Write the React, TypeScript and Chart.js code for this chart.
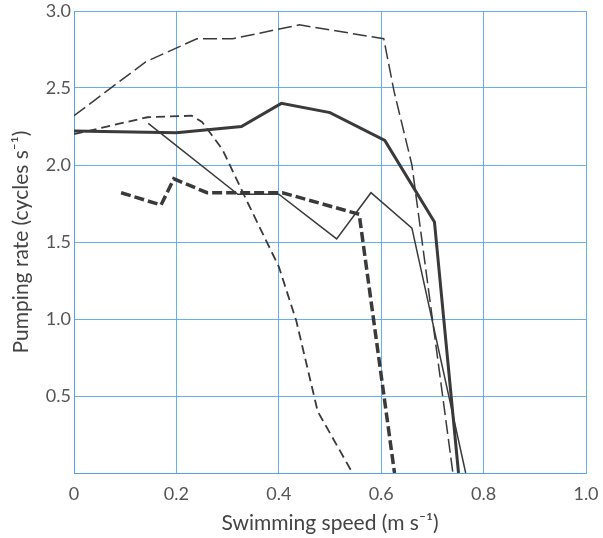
import React, { useEffect, useRef } from "react";
import { Chart, registerables } from "chart.js";

Chart.register(...registerables);

// Swimming speed (m s^-1) and pumping rate (cycles s^-1) for each trace
const aSpeed = [0, 0.14, 0.24, 0.31, 0.44, 0.605, 0.625, 0.66, 0.74];
const aRate = [2.32, 2.67, 2.82, 2.82, 2.91, 2.82, 2.48, 2.0, 0];

const bSpeed = [0, 0.2, 0.327, 0.405, 0.5, 0.607, 0.704, 0.751];
const bRate = [2.22, 2.21, 2.25, 2.4, 2.34, 2.16, 1.63, 0];

const cSpeed = [0.145, 0.32, 0.4, 0.513, 0.58, 0.66, 0.765];
const cRate = [2.27, 1.81, 1.81, 1.52, 1.82, 1.59, 0];

const dSpeed = [0.092, 0.17, 0.195, 0.26, 0.407, 0.557, 0.626];
const dRate = [1.82, 1.74, 1.91, 1.82, 1.82, 1.68, 0];

const eSpeed = [0, 0.143, 0.23, 0.25, 0.29, 0.34, 0.4, 0.434, 0.476, 0.544];
const eRate = [2.2, 2.31, 2.32, 2.28, 2.1, 1.75, 1.34, 0.99, 0.4, 0];

const xTicks = [0, 0.2, 0.4, 0.6, 0.8, 1.0];
const yTicks = [0.5, 1.0, 1.5, 2.0, 2.5, 3.0];

const xTitle = "Swimming speed (m s\u207B\u00B9)";
const yTitle = "Pumping rate (cycles s\u207B\u00B9)";

const toPts = (xs: number[], ys: number[]) => xs.map((x, i) => ({ x, y: ys[i] }));

const INK = "#3a3a3a";
const GRID = "rgba(80,160,240,0.85)";
const FONT = "Lato, sans-serif";

export default function App() {
  const ref = useRef<HTMLCanvasElement | null>(null);

  useEffect(() => {
    if (!ref.current) return;
    const mk = (xs: number[], ys: number[], width: number, dash: number[]) => ({
      data: toPts(xs, ys),
      borderColor: INK,
      borderWidth: width,
      borderDash: dash,
      pointRadius: 0,
      fill: false,
      tension: 0,
      borderJoinStyle: "miter" as const,
    });
    const chart = new Chart(ref.current, {
      type: "line",
      data: {
        datasets: [
          mk(aSpeed, aRate, 1.5, [14, 5]),
          mk(bSpeed, bRate, 3, []),
          mk(cSpeed, cRate, 1.5, []),
          mk(dSpeed, dRate, 3.5, [10, 4]),
          mk(eSpeed, eRate, 1.8, [9, 5]),
        ],
      },
      options: {
        animation: false,
        responsive: false,
        maintainAspectRatio: false,
        layout: { padding: { left: 0, right: 17, top: 11, bottom: 0 } },
        plugins: { legend: { display: false }, tooltip: { enabled: false } },
        scales: {
          x: {
            type: "linear",
            min: 0,
            max: 1,
            afterBuildTicks: (s: any) => {
              s.ticks = xTicks.map((v) => ({ value: v }));
            },
            afterFit: (s: any) => {
              s.height = 65;
              s.paddingLeft = 0;
              s.paddingRight = 0;
            },
            ticks: {
              padding: 10,
              color: "#555",
              font: { family: FONT, size: 18 },
              callback: (v: any) => (Number(v) === 0 ? "0" : Number(v).toFixed(1)),
              maxRotation: 0,
            },
            grid: { color: GRID, lineWidth: 1, drawTicks: false },
            border: { display: true, color: GRID, width: 1 },
            title: {
              display: true,
              text: xTitle,
              color: "#444",
              font: { family: FONT, size: 21 },
              padding: { top: 0, bottom: 2 },
            },
          },
          y: {
            type: "linear",
            min: 0,
            max: 3,
            afterBuildTicks: (s: any) => {
              s.ticks = [0, ...yTicks].map((v) => ({ value: v }));
            },
            afterFit: (s: any) => {
              s.width = 74;
              s.paddingTop = 0;
              s.paddingBottom = 0;
            },
            ticks: {
              padding: 3,
              color: "#555",
              font: { family: FONT, size: 18 },
              callback: (v: any) => (Number(v) === 0 ? "" : Number(v).toFixed(1)),
            },
            grid: { color: GRID, lineWidth: 1, drawTicks: false },
            border: { display: true, color: GRID, width: 1 },
            title: {
              display: true,
              text: yTitle,
              color: "#444",
              font: { family: FONT, size: 21 },
              padding: { top: 9, bottom: 0 },
            },
          },
        },
      },
    });
    return () => chart.destroy();
  }, []);

  return (
    <div style={{ position: "fixed", left: 0, top: 0, width: 603, height: 538, background: "#fff" }}>
      <canvas ref={ref} width={603} height={538} style={{ display: "block" }} />
    </div>
  );
}
